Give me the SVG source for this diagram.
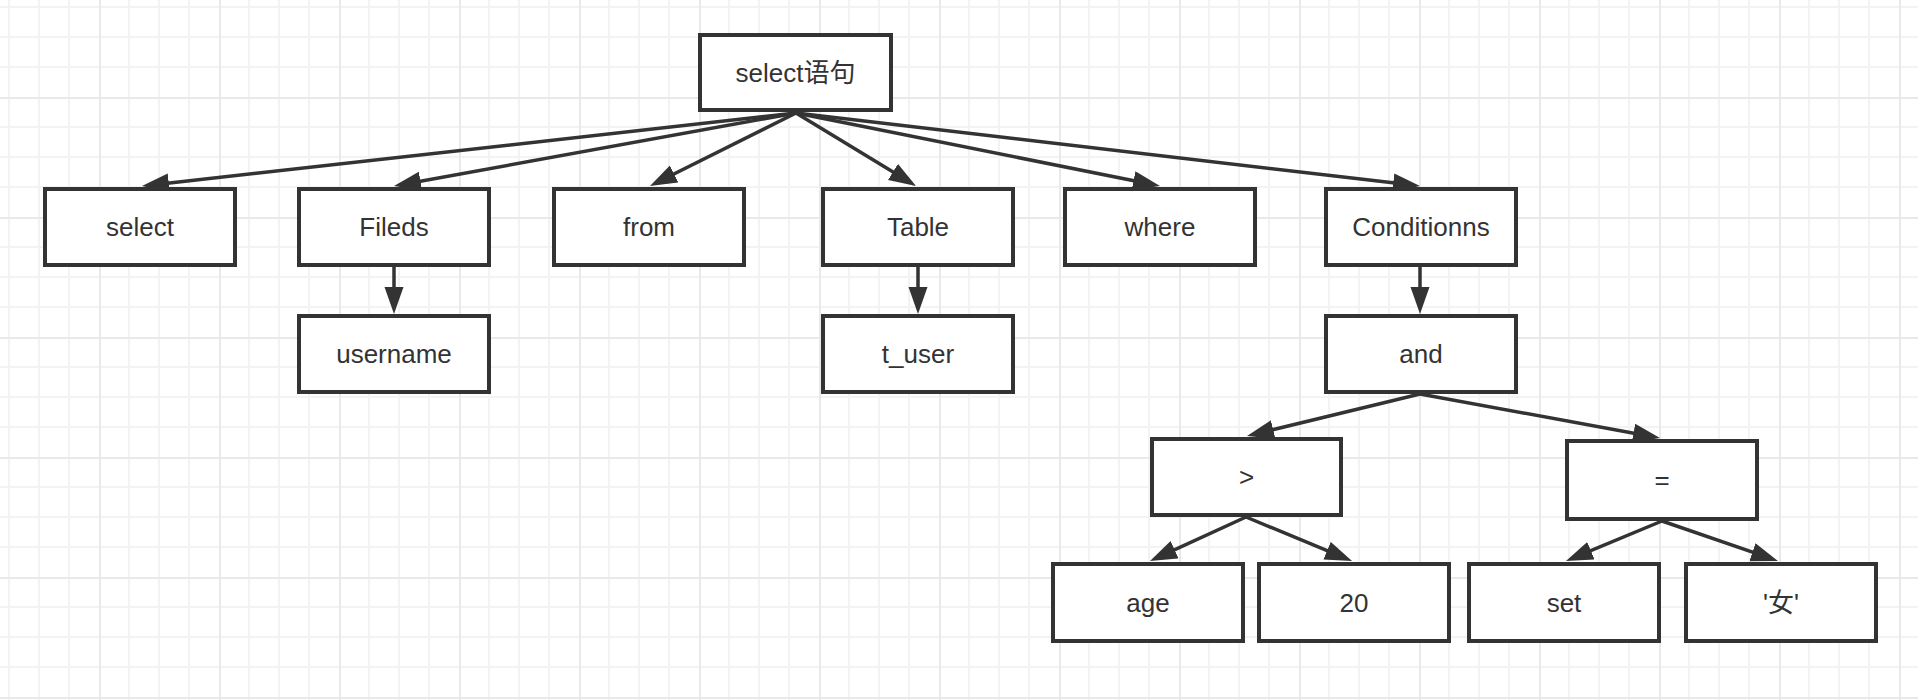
<svg xmlns="http://www.w3.org/2000/svg" width="1918" height="700" viewBox="0 0 1918 700">
<defs>
<pattern id="grid" patternUnits="userSpaceOnUse" x="-21" y="-23" width="120" height="120">
<path d="M30 0V120M60 0V120M90 0V120M0 30H120M0 60H120M0 90H120" stroke="#f3f3f3" stroke-width="2" fill="none"/>
<path d="M1 0V120M0 1H120" stroke="#e9e9e9" stroke-width="2" fill="none"/>
</pattern>
<marker id="arr" markerUnits="userSpaceOnUse" markerWidth="28" markerHeight="20" refX="17" refY="9.5" orient="auto">
<path d="M0,0 L27,9.5 L0,19 z" fill="#333333"/>
</marker>
<style>
.box rect{fill:#ffffff;stroke:#333333;stroke-width:4}
.box text{font-family:"Liberation Sans","Noto Sans CJK SC",sans-serif;font-size:26px;fill:#333333;text-anchor:middle}
#connectors line{stroke:#333333;stroke-width:3.5;marker-end:url(#arr)}
</style>
</defs>
<rect x="0" y="0" width="1918" height="700" fill="#ffffff"/>
<rect x="0" y="0" width="1918" height="700" fill="url(#grid)"/>
<g id="connectors">
<line x1="796" y1="113" x2="151.9" y2="184.9"/>
<line x1="796" y1="113" x2="403.8" y2="184.2"/>
<line x1="796" y1="113" x2="658.9" y2="181.5"/>
<line x1="796" y1="113" x2="907.5" y2="180.8"/>
<line x1="796" y1="113" x2="1150.2" y2="184.0"/>
<line x1="796" y1="113" x2="1410.1" y2="184.8"/>
<line x1="394" y1="267" x2="394" y2="304"/>
<line x1="918" y1="267" x2="918" y2="304"/>
<line x1="1420" y1="267" x2="1420" y2="304"/>
<line x1="1420" y1="394" x2="1256.7" y2="433.6"/>
<line x1="1420" y1="394" x2="1650.2" y2="436.2"/>
<line x1="1246" y1="517" x2="1159.1" y2="556.8"/>
<line x1="1246" y1="517" x2="1342.8" y2="557.2"/>
<line x1="1662" y1="521" x2="1575.2" y2="557.2"/>
<line x1="1662" y1="521" x2="1768.5" y2="557.7"/>
</g>
<g id="n-root" class="box"><rect x="700" y="35" width="191" height="75"/><text x="795.5" y="81.5">select语句</text></g>
<g id="n-select" class="box"><rect x="45" y="189" width="190" height="76"/><text x="140" y="236">select</text></g>
<g id="n-fileds" class="box"><rect x="299" y="189" width="190" height="76"/><text x="394" y="236">Fileds</text></g>
<g id="n-from" class="box"><rect x="554" y="189" width="190" height="76"/><text x="649" y="236">from</text></g>
<g id="n-table" class="box"><rect x="823" y="189" width="190" height="76"/><text x="918" y="236">Table</text></g>
<g id="n-where" class="box"><rect x="1065" y="189" width="190" height="76"/><text x="1160" y="236">where</text></g>
<g id="n-conditionns" class="box"><rect x="1326" y="189" width="190" height="76"/><text x="1421" y="236">Conditionns</text></g>
<g id="n-username" class="box"><rect x="299" y="316" width="190" height="76"/><text x="394" y="363">username</text></g>
<g id="n-tuser" class="box"><rect x="823" y="316" width="190" height="76"/><text x="918" y="363">t_user</text></g>
<g id="n-and" class="box"><rect x="1326" y="316" width="190" height="76"/><text x="1421" y="363">and</text></g>
<g id="n-gt" class="box"><rect x="1152" y="439" width="189" height="76"/><text x="1246.5" y="486">&gt;</text></g>
<g id="n-eq" class="box"><rect x="1567" y="441" width="190" height="78"/><text x="1662" y="489">=</text></g>
<g id="n-age" class="box"><rect x="1053" y="564" width="190" height="77"/><text x="1148" y="611.5">age</text></g>
<g id="n-20" class="box"><rect x="1259" y="564" width="190" height="77"/><text x="1354" y="611.5">20</text></g>
<g id="n-set" class="box"><rect x="1469" y="564" width="190" height="77"/><text x="1564" y="611.5">set</text></g>
<g id="n-nv" class="box"><rect x="1686" y="564" width="190" height="77"/><text x="1781" y="611.5">'女'</text></g>
</svg>
